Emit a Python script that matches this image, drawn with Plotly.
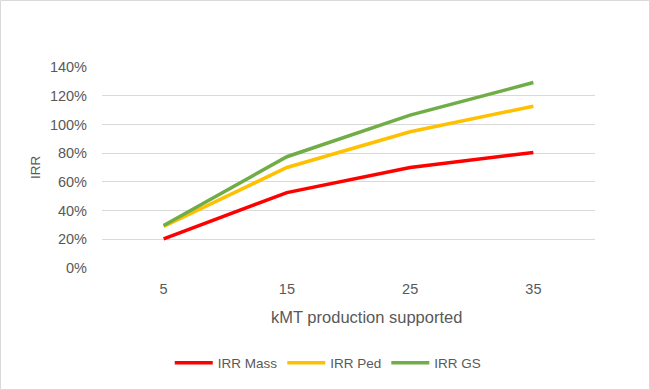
import plotly.graph_objects as go

categories = ["5", "15", "25", "35"]
irr_mass = [0.203, 0.525, 0.70, 0.805]
irr_ped = [0.289, 0.70, 0.949, 1.127]
irr_gs = [0.296, 0.775, 1.065, 1.292]
y_ticks = [0, 0.2, 0.4, 0.6, 0.8, 1.0, 1.2, 1.4]
series_names = ["IRR Mass", "IRR Ped", "IRR GS"]
colors = ["#FF0000", "#FFC000", "#70AD47"]

W, H = 650, 390
ml, mr, mt, mb = 102, 55, 67, 122
FONT = "Liberation Sans"
TXT = "#595959"

fig = go.Figure()
for name, vals, c in zip(series_names, [irr_mass, irr_ped, irr_gs], colors):
    fig.add_trace(go.Scatter(x=categories, y=vals, mode="lines", name=name,
                             line=dict(color=c, width=3.5)))

pw = W - ml - mr
ph = H - mt - mb
def px_x(p):
    return (p - ml) / pw
def px_y(p):
    return (H - mb - p) / ph

fig.update_layout(
    width=W, height=H,
    margin=dict(l=ml, r=mr, t=mt, b=mb),
    paper_bgcolor="white", plot_bgcolor="white",
    font=dict(family=FONT, color=TXT, size=14),
    showlegend=True,
    legend=dict(orientation="h", xref="container", yref="container",
                x=0.505, xanchor="center", y=1 - 363 / H, yanchor="middle",
                font=dict(size=13.5, color=TXT), itemwidth=38,
                tracegroupgap=0),
    xaxis=dict(type="category", range=[-0.5, 3.5], showgrid=False,
               showline=False, zeroline=False, ticks="", ticklabelstandoff=10,
               tickfont=dict(size=14.5, color=TXT)),
    yaxis=dict(range=[0, 1.4], tickvals=y_ticks, tickformat=".0%",
               showgrid=True, gridcolor="#D9D9D9", gridwidth=1,
               zeroline=False, showline=False, ticks="", ticklabelstandoff=14,
               tickfont=dict(size=14.5, color=TXT)),
    annotations=[
        dict(text="kMT production supported", xref="paper", yref="paper",
             x=px_x(366), y=px_y(317), xanchor="center", yanchor="middle",
             showarrow=False, font=dict(size=16.5, color=TXT)),
        dict(text="IRR", xref="paper", yref="paper", textangle=-90,
             x=px_x(35), y=px_y(167), xanchor="center", yanchor="middle",
             showarrow=False, font=dict(size=13.5, color=TXT)),
    ],
    shapes=[
        dict(type="rect", xref="paper", yref="paper",
             x0=px_x(0.5), x1=px_x(649.5), y0=px_y(389.5), y1=px_y(0.5),
             line=dict(color="#D9D9D9", width=1), layer="below"),
    ],
)

fig.write_html("out.html", config={"displayModeBar": False},
               post_script="document.body.style.margin='0';document.body.style.overflow='hidden';")
